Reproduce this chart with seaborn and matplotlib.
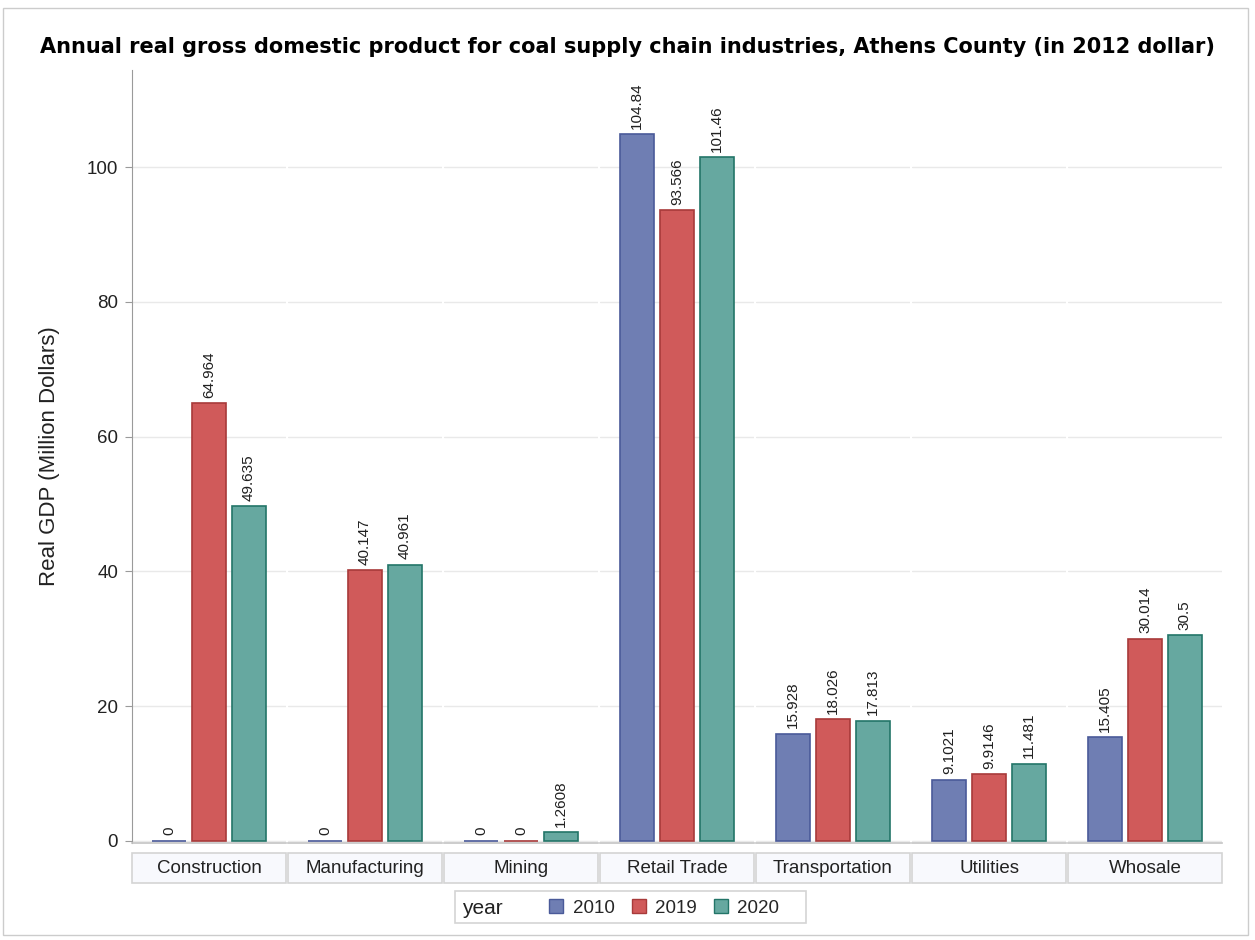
import numpy as np
import pandas as pd
import matplotlib
matplotlib.use("Agg")
import matplotlib.pyplot as plt
import matplotlib.patches as mpatches
import seaborn as sns

industries = ["Construction", "Manufacturing", "Mining", "Retail Trade",
              "Transportation", "Utilities", "Whosale"]
years = ["2010", "2019", "2020"]
gdp_2010 = [0, 0, 0, 104.84, 15.928, 9.1021, 15.405]
gdp_2019 = [64.964, 40.147, 0, 93.566, 18.026, 9.9146, 30.014]
gdp_2020 = [49.635, 40.961, 1.2608, 101.46, 17.813, 11.481, 30.5]

fills = {"2010": "#6F7EB3", "2019": "#D05A5A", "2020": "#66A8A0"}
edges = {"2010": "#4A5A99", "2019": "#A83A3A", "2020": "#237568"}

rows = []
for vals, yr in zip([gdp_2010, gdp_2019, gdp_2020], years):
    for ind, v in zip(industries, vals):
        rows.append({"industry": ind, "year": yr, "gdp": v})
df = pd.DataFrame(rows)

sns.set_style("white")
plt.rcParams["font.family"] = ["Liberation Sans", "DejaVu Sans"]

fig, axes = plt.subplots(1, 7, figsize=(12.55, 9.4), dpi=100, sharey=True)
fig.subplots_adjust(left=0.1052, right=0.9737, bottom=0.1032, top=0.9255, wspace=0.013)

for i, (ax, ind) in enumerate(zip(axes, industries)):
    sub = df[df["industry"] == ind]
    sns.barplot(data=sub, x="year", y="gdp", hue="year", order=years,
                hue_order=years, palette=fills, saturation=1, width=0.85,
                dodge=False, legend=False, ax=ax, zorder=3)
    for bar, yr in zip(ax.patches, years):
        bar.set_edgecolor(edges[yr])
        bar.set_linewidth(1.2)
    for yr, v in zip(sub["year"], sub["gdp"]):
        ax.annotate("%.5g" % v, (years.index(yr), v), xytext=(0, 4),
                    textcoords="offset points", rotation=90, ha="center",
                    va="bottom", fontsize=11, color="#202020")
    ax.set_xlim(-0.94, 2.94)
    ax.set_ylim(-0.3, 114.4)
    ax.set_xticks([])
    ax.set_xlabel("")
    ax.set_yticks([0, 20, 40, 60, 80, 100])
    ax.grid(axis="y", color="#E9E9E9", linewidth=1, zorder=0)
    for s in ["top", "right", "left"]:
        ax.spines[s].set_visible(False)
    ax.spines["bottom"].set_color("#C4C4C4")
    ax.spines["bottom"].set_linewidth(1.2)
    if i == 0:
        ax.spines["left"].set_visible(True)
        ax.spines["left"].set_color("#9A9A9A")
        ax.tick_params(axis="y", length=5, color="#9A9A9A", labelsize=13.5,
                       left=True, labelcolor="#222222", pad=5)
        ax.set_ylabel("Real GDP (Million Dollars)", fontsize=16, color="#222222",
                      labelpad=19)
    else:
        ax.tick_params(axis="y", left=False)
        ax.set_ylabel("")
    # category header box under each panel
    ax.add_patch(mpatches.Rectangle((0, -0.052), 1, 0.039, transform=ax.transAxes,
                                    facecolor="#F8F9FD", edgecolor="#D4D4D4",
                                    linewidth=1.2, clip_on=False))
    ax.text(0.5, -0.0325, ind, transform=ax.transAxes, ha="center", va="center",
            fontsize=13.5, color="#222222")

fig.suptitle("Annual real gross domestic product for coal supply chain industries, "
             "Athens County (in 2012 dollar)", x=0.5, y=0.961, fontsize=15.0,
             fontweight="bold", family="DejaVu Sans", color="black")

# legend
fig.patches.append(mpatches.Rectangle((455 / 1255, 1 - 923 / 940), 351 / 1255, 32 / 940,
                                      transform=fig.transFigure, facecolor="white",
                                      edgecolor="#D4D4D4", linewidth=1.2))
fig.text(462 / 1255, 1 - 908 / 940, "year", fontsize=15, ha="left", va="center",
         color="#222222")
handles = [mpatches.Patch(facecolor=fills[y], edgecolor=edges[y], linewidth=1) for y in years]
fig.legend(handles, years, ncol=3, loc="center left",
           bbox_to_anchor=(540 / 1255, 1 - 908 / 940), frameon=False, fontsize=13.5,
           handlelength=0.75, handleheight=0.75, handletextpad=0.5,
           columnspacing=0.9, borderpad=0)

# outer frame
fig.patches.append(mpatches.Rectangle((3 / 1255, 1 - 935 / 940), 1245 / 1255, 927 / 940,
                                      transform=fig.transFigure, fill=False,
                                      edgecolor="#CCCCCC", linewidth=1))

fig.savefig("out.png", dpi=100)
